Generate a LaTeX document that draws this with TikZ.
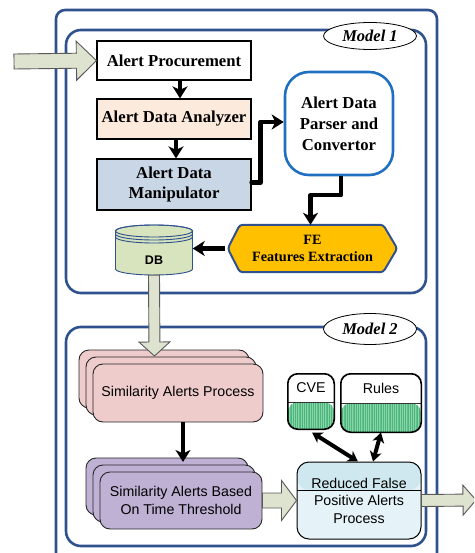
\documentclass[tikz,border=0pt]{standalone}
\usepackage{fontspec}
\setmainfont{Liberation Serif}
\newfontfamily\arialf{Liberation Sans}
\usetikzlibrary{arrows.meta,calc,shapes.geometric,shadows,patterns.meta}

\definecolor{frameblue}{HTML}{2F528F}
\definecolor{parserblue}{HTML}{1F70C1}
\definecolor{blockfill}{HTML}{DDE3CE}
\definecolor{blockedge}{HTML}{5A5A5A}
\definecolor{analyzerfill}{HTML}{FCEADD}
\definecolor{manipfill}{HTML}{C8D6E6}
\definecolor{fegold}{HTML}{FFC000}
\definecolor{dbgreen}{HTML}{D7E4BD}
\definecolor{simpink}{HTML}{EECCCB}
\definecolor{simpurple}{HTML}{BFB1D4}
\definecolor{redtop}{HTML}{CFE8EF}
\definecolor{redbody}{HTML}{E5F3F8}
\definecolor{kbgreen}{HTML}{86D6A8}
\definecolor{kbhatch}{HTML}{4FB57E}

% block arrow: from, tip, half shaft width, half head width, head length
\newcommand\bigarrow[5]{%
  \coordinate (ba-s) at (#1);
  \coordinate (ba-t) at (#2);
  \coordinate (ba-h) at ($(ba-t)!#5!(ba-s)$);
  \draw[blockarr] ($(ba-s)!#3!90:(ba-t)$) -- ($(ba-h)!#3!90:(ba-t)$)
    -- ($(ba-h)!#4!90:(ba-t)$) -- (ba-t) -- ($(ba-h)!#4!-90:(ba-t)$)
    -- ($(ba-h)!#3!-90:(ba-t)$) -- ($(ba-s)!#3!-90:(ba-t)$) -- cycle;
}

\begin{document}
\begin{tikzpicture}[x=1pt,y=-1pt,
  frame/.style={draw=frameblue, line width=2.6pt},
  blockarr/.style={fill=blockfill, draw=blockedge, line width=0.9pt, line join=miter},
  serifbox/.style={draw=black, line width=1.2pt, minimum width=154pt, inner sep=0pt,
    align=center, font=\fontsize{16.7}{20.5}\selectfont\bfseries},
  sansfont/.style={font=\arialf\fontsize{14.2}{17.5}\selectfont},
  stackbox/.style={sansfont, draw=black!85, line width=0.9pt, rounded corners=10pt,
    align=center, inner sep=0pt,
    copy shadow={shadow xshift=-14pt, shadow yshift=14pt},
    copy shadow={shadow xshift=-7pt, shadow yshift=7pt}},
  tag/.style={ellipse, draw=black, line width=0.8pt, fill=white, minimum width=93pt,
    inner sep=0pt, font=\fontsize{16.5}{18}\selectfont\bfseries\itshape},
  flow/.style={line width=4.4pt, -{Stealth[length=12pt,width=15pt,inset=3.5pt]}},
  dflow/.style={line width=4pt,
    {Stealth[length=10pt,width=12pt,inset=3pt]}-{Stealth[length=10pt,width=12pt,inset=3pt]}},
  kbbox/.style={sansfont, draw=black, line width=1pt, fill=white, rounded corners=10pt, inner sep=0pt},
]
\useasboundingbox (0,0) rectangle (474,553);
\clip (0,0) rectangle (474,553);

% frames
\draw[frame, rounded corners=9pt] (56,10) rectangle (437,580);
\draw[frame, rounded corners=15pt] (66,30) rectangle (426,293);
\draw[frame, rounded corners=15pt] (66,327) rectangle (426,546);
\node[tag, minimum height=27pt] (m1) at (370,36) {Model 1};
\node[tag, minimum height=31pt] (m2) at (370,329) {Model 2};

% Model 1
\node[serifbox, fill=white, minimum height=39pt] (proc) at (174,60.5) {Alert Procurement};
\node[serifbox, fill=analyzerfill, minimum height=40pt] (anal) at (174,119) {Alert Data Analyzer};
\node[serifbox, fill=manipfill, minimum height=51pt] (manip) at (174,184.5) {Alert Data\\Manipulator};
\node[draw=parserblue, line width=2.6pt, fill=white, rounded corners=24pt,
  minimum width=108pt, minimum height=103pt, inner sep=0pt, align=center,
  font=\fontsize{16.7}{21}\selectfont\bfseries] (parser) at (339,123.5)
  {Alert Data\\Parser and\\Convertor};

% feature extraction hexagon
\node[minimum width=169pt, minimum height=47pt, inner sep=0pt] (fe) at (312.5,248.5) {};
\draw[fill=fegold, draw=frameblue, line width=2pt, rounded corners=3pt]
  (fe.west) -- ([xshift=12pt]fe.north west) -- ([xshift=-14pt]fe.north east)
  -- (fe.east) -- ([xshift=-14pt]fe.south east) -- ([xshift=12pt]fe.south west) -- cycle;
\node[align=center, font=\fontsize{14.2}{17}\selectfont\bfseries] at (fe.center) {FE\\Features Extraction};

% database cylinder
\draw[fill=dbgreen, draw=frameblue, line width=0.9pt]
  (115.5,231) -- (115.5,269) arc[start angle=180, end angle=360, x radius=38.5pt, y radius=6pt]
  -- (192.5,231) arc[start angle=0, end angle=180, x radius=38.5pt, y radius=6pt] -- cycle;
\draw[frameblue, line width=0.9pt] (154,231) ellipse[x radius=38.5pt, y radius=6pt];
\draw[frameblue, line width=0.9pt]
  (115.5,234) arc[start angle=180, end angle=360, x radius=38.5pt, y radius=6pt]
  (115.5,237) arc[start angle=180, end angle=360, x radius=38.5pt, y radius=6pt];
\node[minimum width=77pt, minimum height=50pt, inner sep=0pt,
  label={[font=\arialf\fontsize{12.5}{14}\selectfont\bfseries, yshift=-10pt]center:DB}] (db) at (154,250) {};

% Model 1 flow
\draw[flow] ([xshift=6pt]proc.south) -- ([xshift=6pt]anal.north);
\draw[flow] ([xshift=2pt]anal.south) -- ([xshift=2pt]manip.north);
\draw[flow, line cap=round, line join=round] ([yshift=2pt]manip.east) -- ++(9,0) |- ([yshift=1.5pt]parser.west);
\draw[flow, line join=round] ([xshift=2pt]parser.south) -- ++(0,19) -| ([xshift=-2pt]fe.north);
\draw[flow] ([xshift=-3pt]fe.west) -- (fe.west -| db.east);

% Model 2
\node[stackbox, fill=simpink, minimum width=170pt, minimum height=58pt] (simA) at (178,393)
  {Similarity Alerts Process};
\node[stackbox, fill=simpurple, minimum width=162pt, minimum height=57pt] (simB) at (181,500.5)
  {Similarity Alerts Based\\On Time Threshold};
\node[sansfont, draw=black, line width=1pt, fill=redbody, rounded corners=12pt,
  minimum width=124pt, minimum height=77pt, inner sep=0pt, align=center,
  path picture={
    \fill[redtop] (path picture bounding box.north west) rectangle ($(path picture bounding box.east)+(0,-10.5)$);
    \draw[black, line width=0.8pt] ($(path picture bounding box.west)+(0,-10.5)$) -- ($(path picture bounding box.east)+(0,-10.5)$);
  }] (red) at (359,500.5) {Reduced False\\Positive Alerts\\Process};
\node[kbbox, minimum width=46pt, minimum height=55pt,
  label={[sansfont, yshift=13.5pt]center:CVE},
  path picture={
    \fill[kbgreen] ($(path picture bounding box.west)+(0,0.5)$) rectangle (path picture bounding box.south east);
    \fill[pattern={Lines[angle=90,distance=1.8pt,line width=0.6pt]}, pattern color=kbhatch]
      ($(path picture bounding box.west)+(0,0.5)$) rectangle (path picture bounding box.south east);
    \draw[black!80, line width=0.8pt] ($(path picture bounding box.west)+(0,0.5)$) -- ($(path picture bounding box.east)+(0,0.5)$);
  }] (cve) at (311,401.5) {};
\node[kbbox, minimum width=80pt, minimum height=58pt,
  label={[sansfont, yshift=15pt]center:Rules},
  path picture={
    \fill[kbgreen] (path picture bounding box.west) rectangle (path picture bounding box.south east);
    \fill[pattern={Lines[angle=90,distance=1.8pt,line width=0.6pt]}, pattern color=kbhatch]
      (path picture bounding box.west) rectangle (path picture bounding box.south east);
    \draw[black!80, line width=0.8pt] (path picture bounding box.west) -- (path picture bounding box.east);
  }] (rules) at (381,403) {};
\draw[kbbox, fill=none] (cve.north west) rectangle (cve.south east);
\draw[kbbox, fill=none] (rules.north west) rectangle (rules.south east);

% Model 2 flow
\coordinate (simBtop) at (183,462);
\draw[flow] (simA.south -| simBtop) -- (simBtop);
\draw[dflow] ([xshift=1pt,yshift=-3pt]cve.south) -- ([xshift=-1pt]red.north);
\draw[dflow] (rules.south) -- ([xshift=14pt]red.north);

% block arrows
\coordinate (in) at (14,61.5);
\coordinate (simtop) at (154.5,356);
\coordinate (out) at (476,500);
\bigarrow{in}{proc.west}{7.5pt}{19.5pt}{20pt}
\bigarrow{db.south}{simtop}{5.5pt}{15.5pt}{14pt}
\bigarrow{simB.east}{red.west}{7.5pt}{20pt}{15pt}
\bigarrow{red.east}{out}{6pt}{15pt}{13pt}
\end{tikzpicture}
\end{document}
